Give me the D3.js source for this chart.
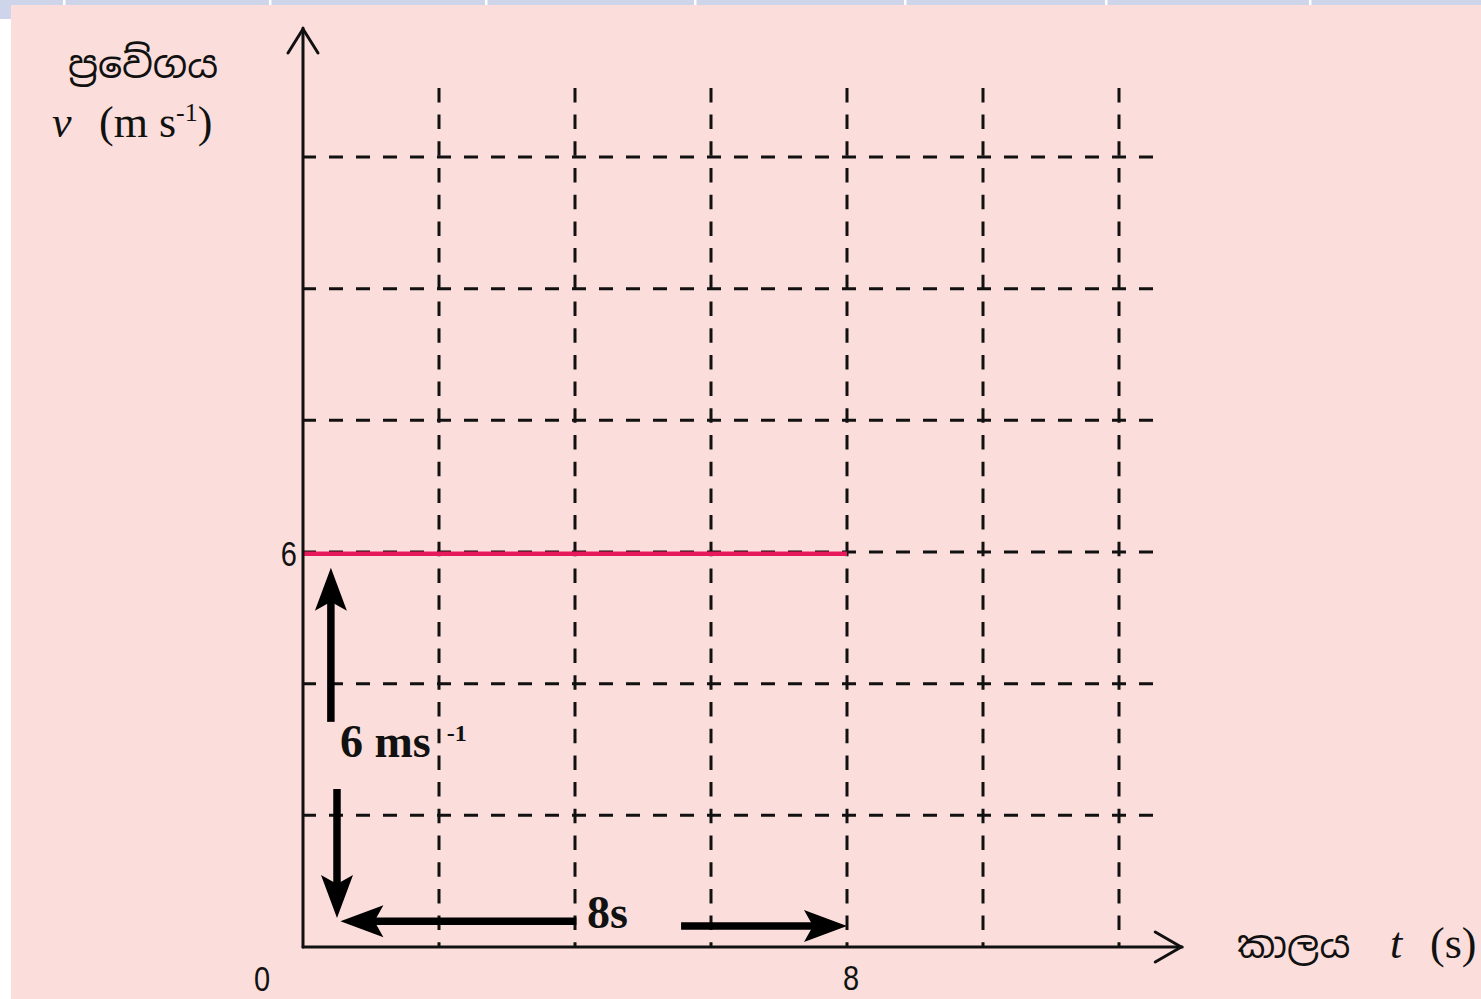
<!DOCTYPE html>
<html>
<head>
<meta charset="utf-8">
<script src="https://cdn.jsdelivr.net/npm/d3@7"></script>
<style>
  html, body { margin: 0; padding: 0; background: #ffffff; }
  svg { display: block; }
</style>
</head>
<body>
<svg id="chart" width="1481" height="999"></svg>
<script>
// Velocity–time graph: constant velocity of 6 m/s held for 8 s.
const gridTimes = [2, 4, 6, 8, 10, 12];        // s, vertical grid lines
const gridVelocities = [2, 4, 6, 8, 10, 12];   // m/s, horizontal grid lines
const motionTimes = [0, 8];                    // s
const motionVelocities = [6, 6];               // m/s
const xTickLabels = ["0", "8"];
const yTickLabels = ["6"];
const yLabelTitle = "ප්‍රවේගය";
const xLabelTitle = "කාලය";

const svg = d3.select("#chart");
const W = 1481, H = 999;

// page backdrop
svg.append("rect").attr("x", 0).attr("y", 0).attr("width", W).attr("height", H).attr("fill", "#ffffff");
svg.append("rect").attr("x", 0).attr("y", 0).attr("width", W).attr("height", 5).attr("fill", "#ced5eb");
svg.append("rect").attr("x", 0).attr("y", 0).attr("width", 11).attr("height", 19).attr("fill", "#ced5eb");
[64, 270, 486, 695, 905, 1106, 1310].forEach(sx => {
  svg.append("rect").attr("x", sx - 1).attr("y", 0).attr("width", 2.5).attr("height", 5).attr("fill", "#ffffff");
});
svg.append("rect").attr("x", 11).attr("y", 5).attr("width", W - 11).attr("height", H - 5).attr("fill", "#fbdedb");

// scales
const x = d3.scaleLinear().domain([0, 8]).range([303, 847]);
const y = d3.scaleLinear().domain([0, 6]).range([947, 552]);

const xGridEnd = 12.53, yGridTop = 13.05;
const xAxisEnd = 12.93, yAxisTop = 13.96;

// dashed grid
const grid = svg.append("g").attr("stroke", "#111").attr("stroke-width", 3).attr("fill", "none");
grid.selectAll("line.v").data(gridTimes).join("line")
  .attr("class", "v")
  .attr("x1", d => x(d)).attr("x2", d => x(d))
  .attr("y1", y(yGridTop)).attr("y2", y(0))
  .attr("stroke-dasharray", "14.5,12.2");

// motion line (drawn under the horizontal dashes)
svg.append("path")
  .datum(motionTimes.map((t, i) => [t, motionVelocities[i]]))
  .attr("fill", "none")
  .attr("stroke", "#e8185c")
  .attr("stroke-width", 4.5)
  .attr("d", d3.line().x(d => x(d[0])).y(d => y(d[1]) + 1.8));

grid.selectAll("line.h").data(gridVelocities).join("line")
  .attr("class", "h")
  .attr("x1", x(0) - 1).attr("x2", x(xGridEnd))
  .attr("y1", d => y(d)).attr("y2", d => y(d))
  .attr("stroke-dasharray", "14,13");

// axes with open arrow tips
const axes = svg.append("g").attr("stroke", "#111").attr("stroke-width", 3).attr("fill", "none")
  .attr("stroke-linecap", "round").attr("stroke-linejoin", "round");
axes.append("line").attr("x1", x(0)).attr("y1", y(0)).attr("x2", x(0)).attr("y2", y(yAxisTop));
axes.append("polyline").attr("points", [
  [x(0) - 15, y(yAxisTop) + 25], [x(0), y(yAxisTop) + 1], [x(0) + 15, y(yAxisTop) + 25]
].join(" "));
axes.append("line").attr("x1", x(0)).attr("y1", y(0)).attr("x2", x(xAxisEnd)).attr("y2", y(0));
axes.append("polyline").attr("points", [
  [x(xAxisEnd) - 27, y(0) - 15], [x(xAxisEnd) - 1, y(0)], [x(xAxisEnd) - 27, y(0) + 15]
].join(" "));

// tick labels
const tickFont = "'Liberation Sans', Arial, sans-serif";
function tickText(str, cx, baseline, anchor) {
  svg.append("text")
    .attr("transform", `translate(${cx},${baseline}) scale(1,1.2)`)
    .attr("text-anchor", anchor)
    .attr("font-family", tickFont)
    .attr("font-size", 29)
    .attr("fill", "#111")
    .text(str);
}
tickText(xTickLabels[0], x(0) - 41, 991, "middle");
tickText(xTickLabels[1], x(8) + 4, 990, "middle");
tickText(yTickLabels[0], x(0) - 6, y(6) + 14, "end");

// axis titles
const serif = "'Liberation Serif', 'Times New Roman', serif";
const sinhala = "'Noto Sans Sinhala', 'Iskoola Pota', 'Noto Serif Sinhala', 'Noto Sans', sans-serif";
svg.append("text").attr("x", 68).attr("y", 78)
  .attr("font-family", sinhala).attr("font-size", 38).attr("fill", "#111")
  .text(yLabelTitle);
svg.append("text").attr("x", 52).attr("y", 137)
  .attr("font-family", serif).attr("font-size", 44).attr("font-style", "italic").attr("fill", "#111")
  .text("v");
const yUnit = svg.append("text").attr("x", 99).attr("y", 137)
  .attr("font-family", serif).attr("font-size", 44).attr("fill", "#111")
  .attr("xml:space", "preserve");
yUnit.append("tspan").text("(m s");
yUnit.append("tspan").attr("font-size", 26).attr("dy", -16).text("-1");
yUnit.append("tspan").attr("dy", 16).text(")");

svg.append("text").attr("x", 1237).attr("y", 958)
  .attr("font-family", sinhala).attr("font-size", 38).attr("fill", "#111")
  .text(xLabelTitle);
svg.append("text").attr("x", 1390).attr("y", 958)
  .attr("font-family", serif).attr("font-size", 44).attr("font-style", "italic").attr("fill", "#111")
  .text("t");
svg.append("text").attr("x", 1430).attr("y", 958)
  .attr("font-family", serif).attr("font-size", 44).attr("fill", "#111")
  .text("(s)");

// block arrows measuring the 6 m/s height and the 8 s duration
function blockArrow(x1, y1, x2, y2) {
  const dx = x2 - x1, dy = y2 - y1;
  const len = Math.hypot(dx, dy);
  const ux = dx / len, uy = dy / len;
  const px = -uy, py = ux;
  const headLen = 43, half = 16, notch = 9;
  const bx = x2 - ux * headLen, by = y2 - uy * headLen;
  svg.append("line")
    .attr("x1", x1).attr("y1", y1)
    .attr("x2", x2 - ux * (headLen - notch - 2)).attr("y2", y2 - uy * (headLen - notch - 2))
    .attr("stroke", "#000").attr("stroke-width", 7.5);
  svg.append("path")
    .attr("fill", "#000")
    .attr("d", `M${x2},${y2} L${bx + px * half},${by + py * half} ` +
               `L${bx + ux * notch},${by + uy * notch} L${bx - px * half},${by - py * half} Z`);
}
blockArrow(x(0.41), y(3.42), x(0.41), y(5.76));   // up, to v = 6
blockArrow(x(0.50), y(2.40), x(0.50), y(0.44));   // down, to v = 0
blockArrow(x(4.02), y(0.39), x(0.55), y(0.39));   // left, to t = 0
blockArrow(x(5.56), y(0.32), x(8.00), y(0.32));   // right, to t = 8

const velNote = svg.append("text").attr("x", 340).attr("y", 757)
  .attr("font-family", serif).attr("font-size", 46).attr("font-weight", "bold").attr("fill", "#111")
  .attr("xml:space", "preserve");
velNote.append("tspan").text("6 ms");
velNote.append("tspan").attr("font-size", 24).attr("dy", -16).attr("dx", 16).text("-1");

svg.append("text").attr("x", 587).attr("y", 928)
  .attr("font-family", serif).attr("font-size", 46).attr("font-weight", "bold").attr("fill", "#111")
  .text("8s");
</script>
</body>
</html>
